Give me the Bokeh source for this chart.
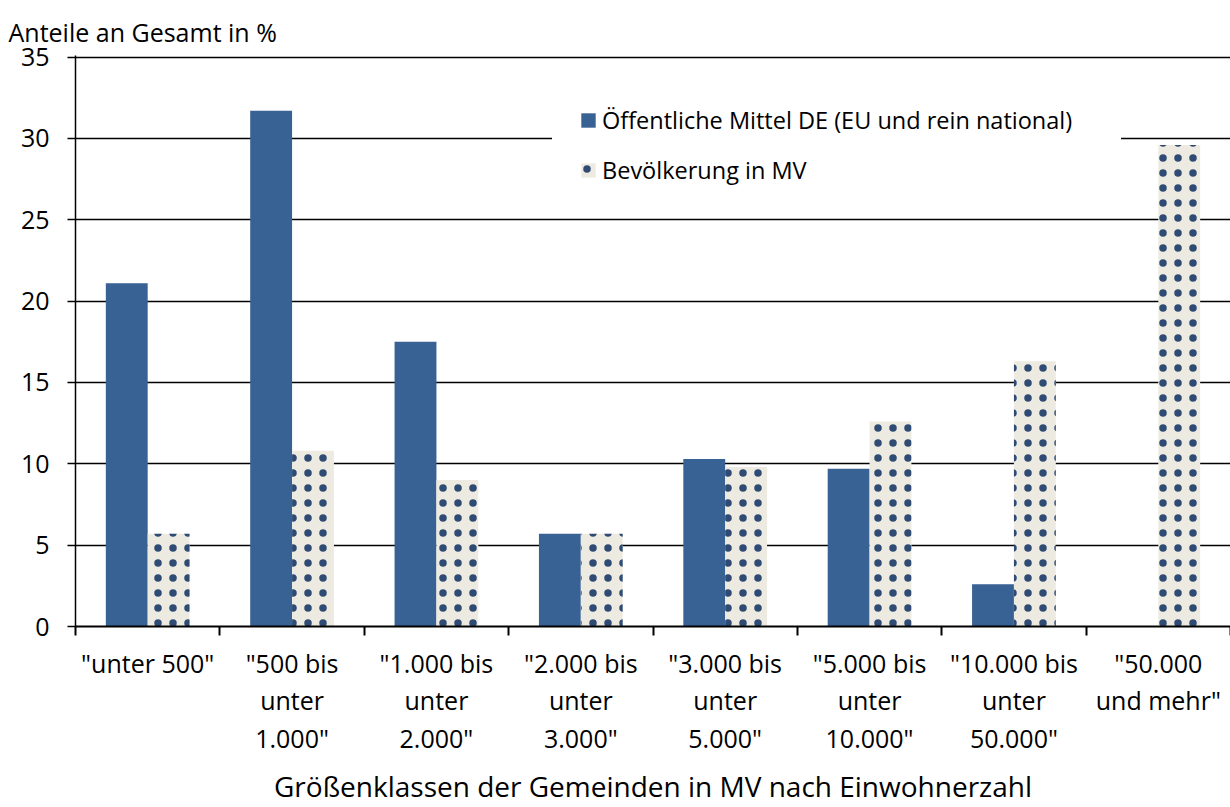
from bokeh.plotting import figure
from bokeh.models import Range1d, FixedTicker, Legend, LegendItem, ColumnDataSource
from bokeh.transform import dodge
from bokeh.embed import file_html
from bokeh.resources import INLINE

# Size classes of municipalities (by inhabitants)
categories = [
    '"unter 500"',
    '"500 bis\nunter\n1.000"',
    '"1.000 bis\nunter\n2.000"',
    '"2.000 bis\nunter\n3.000"',
    '"3.000 bis\nunter\n5.000"',
    '"5.000 bis\nunter\n10.000"',
    '"10.000 bis\nunter\n50.000"',
    '"50.000\nund mehr"',
]
# Shares in percent
oeffentliche_mittel = [21.1, 31.7, 17.5, 5.7, 10.3, 9.7, 2.6, 0.0]
bevoelkerung = [5.7, 10.8, 9.0, 5.7, 9.8, 12.6, 16.3, 29.6]
y_ticks = [0, 5, 10, 15, 20, 25, 30, 35]

FONT = "Open Sans"
FS = "25px"
BLUE = "#386194"
BEIGE = "#EDEBE1"
NAVY = "#2F4B74"

n = len(categories)
centers = [i + 0.5 for i in range(n)]
source = ColumnDataSource(dict(x=centers, mittel=oeffentliche_mittel, bev=bevoelkerung))

p = figure(
    width=1230, height=807,
    x_range=Range1d(0, n), y_range=Range1d(0, 35.1),
    output_backend="svg", toolbar_location=None,
    min_border_left=75, min_border_right=0, min_border_top=55, min_border_bottom=180,
)
p.outline_line_color = None
p.background_fill_color = "white"
p.border_fill_color = "white"

bar_w = 0.29
r1 = p.vbar(x=dodge("x", -0.145, range=p.x_range), top="mittel", width=bar_w,
            source=source, fill_color=BLUE, line_color=None)
r2 = p.vbar(x=dodge("x", 0.145, range=p.x_range), top="bev", width=bar_w,
            source=source, fill_color=BEIGE, line_color=None,
            hatch_pattern="dot", hatch_color=NAVY, hatch_scale=15, hatch_weight=2.6)

# x axis: labels at class centres, tick marks at class boundaries
xa = p.xaxis[0]
xa.ticker = FixedTicker(ticks=centers, minor_ticks=list(range(n + 1)))
xa.major_label_overrides = {c: lab for c, lab in zip(centers, categories)}
xa.major_tick_out = 0
xa.major_tick_in = 0
xa.minor_tick_out = 9
xa.minor_tick_in = 0
xa.minor_tick_line_color = "black"
xa.minor_tick_line_width = 2
xa.axis_line_color = "black"
xa.axis_line_width = 2
xa.major_label_text_font = FONT
xa.major_label_text_font_size = FS
xa.major_label_text_color = "black"
xa.major_label_text_line_height = 1.11
xa.major_label_standoff = 10
xa.axis_label = "Größenklassen der Gemeinden in MV nach Einwohnerzahl"
xa.axis_label_text_font = FONT
xa.axis_label_text_font_size = "28px"
xa.axis_label_text_font_style = "normal"
xa.axis_label_text_color = "black"
xa.axis_label_standoff = 9

ya = p.yaxis[0]
ya.ticker = FixedTicker(ticks=y_ticks, minor_ticks=[])
ya.major_tick_out = 8
ya.major_tick_in = 0
ya.major_tick_line_color = "black"
ya.major_tick_line_width = 1.5
ya.axis_line_color = "black"
ya.axis_line_width = 1.5
ya.major_label_text_font = FONT
ya.major_label_text_font_size = FS
ya.major_label_text_color = "black"
ya.major_label_standoff = 18

p.xgrid.grid_line_color = None
p.ygrid.ticker = FixedTicker(ticks=y_ticks)
p.ygrid.grid_line_color = "black"
p.ygrid.grid_line_width = 1.5

p.title.text = "Anteile an Gesamt in %"
p.title.align = "left"
p.title.offset = -67
p.title.standoff = 14
p.title.text_font = FONT
p.title.text_font_size = FS
p.title.text_font_style = "normal"
p.title.text_color = "black"

legend = Legend(
    items=[
        LegendItem(label="Öffentliche Mittel DE (EU und rein national)", renderers=[r1]),
        LegendItem(label="Bevölkerung in MV", renderers=[r2]),
    ],
    location=(477, 413),
    padding=26, spacing=18,
    glyph_width=18, glyph_height=18, label_height=20, label_width=492, label_standoff=5,
    label_text_font=FONT, label_text_font_size="23.5px", label_text_color="black",
    background_fill_color="white", background_fill_alpha=1.0,
    border_line_color="white", border_line_width=1,
)
p.add_layout(legend, "center")

open("out.html", "w").write(file_html(p, INLINE))
